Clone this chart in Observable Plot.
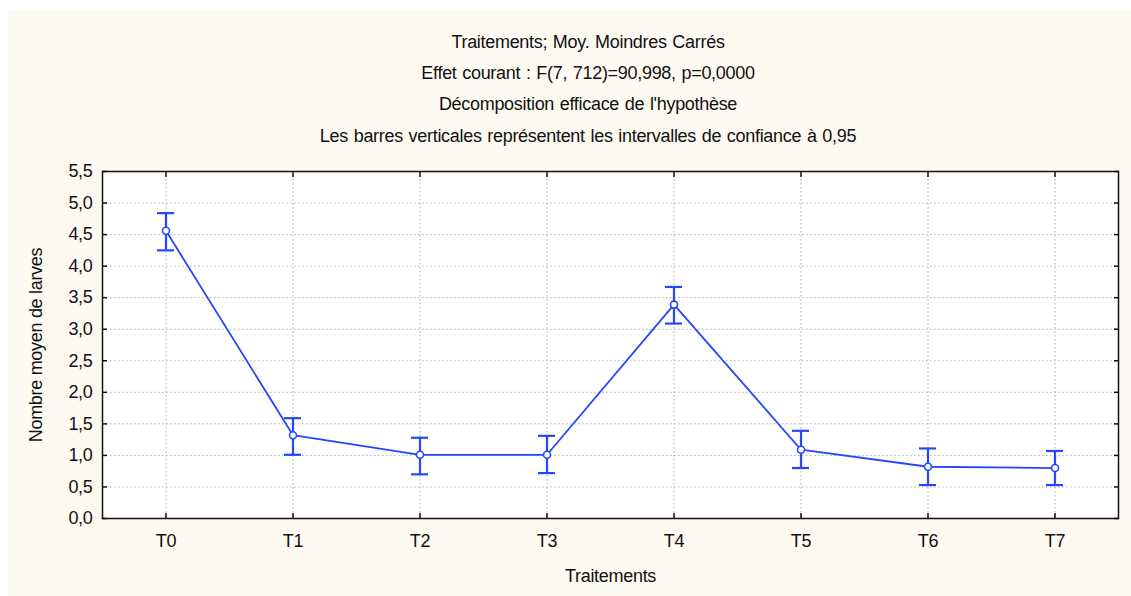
<!DOCTYPE html>
<html>
<head>
<meta charset="utf-8">
<script src="https://cdn.jsdelivr.net/npm/d3@7"></script>
<script src="https://cdn.jsdelivr.net/npm/@observablehq/plot@0.6"></script>
<style>
  body { margin: 0; background: #ffffff; }
  #wrap { position: relative; width: 1131px; height: 596px; overflow: hidden; background: #ffffff; }
  #cream { position: absolute; left: 8px; top: 10px; right: 0; bottom: 0; background: #fdfaf1; }
  #titles { position: absolute; left: 0; top: 0; width: 1176px; height: 150px;
            font-family: "Liberation Sans", Arial, sans-serif; font-size: 18px; color: #111;
            letter-spacing: -0.3px; word-spacing: 1px; text-align: center; }
  #titles div { position: absolute; left: 0; right: 0; height: 20px; line-height: 20px; }
  #chart { position: absolute; left: 0; top: 150px; }
</style>
</head>
<body>
<div id="wrap">
  <div id="cream"></div>
  <div id="titles">
    <div style="top:32px">Traitements; Moy. Moindres Carrés</div>
    <div style="top:63px">Effet courant : F(7, 712)=90,998, p=0,0000</div>
    <div style="top:94px">Décomposition efficace de l'hypothèse</div>
    <div style="top:126px">Les barres verticales représentent les intervalles de confiance à 0,95</div>
  </div>
  <div id="chart"></div>
</div>
<script>
const categories = ["T0", "T1", "T2", "T3", "T4", "T5", "T6", "T7"];
const means = [4.56, 1.32, 1.01, 1.01, 3.39, 1.09, 0.82, 0.80];
const lows  = [4.25, 1.01, 0.70, 0.72, 3.09, 0.80, 0.53, 0.53];
const highs = [4.84, 1.59, 1.28, 1.31, 3.67, 1.39, 1.11, 1.07];
const yTicks = [0, 0.5, 1, 1.5, 2, 2.5, 3, 3.5, 4, 4.5, 5, 5.5];

const data = categories.map((c, i) => ({cat: c, mean: means[i], low: lows[i], high: highs[i]}));

const blue = "#2446ff";
const gridStyle = {stroke: "#9fb4b4", strokeOpacity: 1, strokeWidth: 1, strokeDasharray: "1.5,2.5"};
const fmt = d => d.toFixed(1).replace(".", ",");

const chart = Plot.plot({
  width: 1131,
  height: 446,
  marginTop: 21,
  marginBottom: 78,
  marginLeft: 102,
  marginRight: 13,
  style: {background: "transparent", fontFamily: "Liberation Sans, Arial, sans-serif", fontSize: "18px", color: "#111", letterSpacing: "-0.3px"},
  x: {type: "band", domain: categories, paddingInner: 0.87, paddingOuter: 0.435},
  y: {domain: [0, 5.5]},
  marks: [
    Plot.frame({fill: "white", stroke: null}),
    Plot.gridX({...gridStyle}),
    Plot.gridY(yTicks, {...gridStyle}),
    Plot.axisX({anchor: "bottom", tickSize: -5, tickPadding: 21, strokeWidth: 1.5,
      label: "Traitements", labelAnchor: "center", labelOffset: 63, labelArrow: "none"}),
    Plot.axisX({anchor: "top", tickSize: -5, strokeWidth: 1.5, tickFormat: () => "", label: null}),
    Plot.axisY({anchor: "left", ticks: yTicks, tickFormat: fmt, tickSize: -5, tickPadding: 15, strokeWidth: 1.5,
      label: "Nombre moyen de larves", labelAnchor: "center", labelOffset: 73, labelArrow: "none"}),
    Plot.axisY({anchor: "right", ticks: yTicks, tickSize: -5, strokeWidth: 1.5, tickFormat: () => "", label: null}),
    Plot.line(data, {x: "cat", y: "mean", stroke: blue, strokeWidth: 1.8}),
    Plot.ruleX(data, {x: "cat", y1: "low", y2: "high", stroke: blue, strokeWidth: 2.2}),
    Plot.tickY(data, {x: "cat", y: "low", stroke: blue, strokeWidth: 2.2}),
    Plot.tickY(data, {x: "cat", y: "high", stroke: blue, strokeWidth: 2.2}),
    Plot.dot(data, {x: "cat", y: "mean", r: 3.5, fill: "white", stroke: blue, strokeWidth: 1.6}),
    Plot.frame({stroke: "#111", strokeWidth: 1.5})
  ]
});
document.getElementById("chart").appendChild(chart);
</script>
</body>
</html>
